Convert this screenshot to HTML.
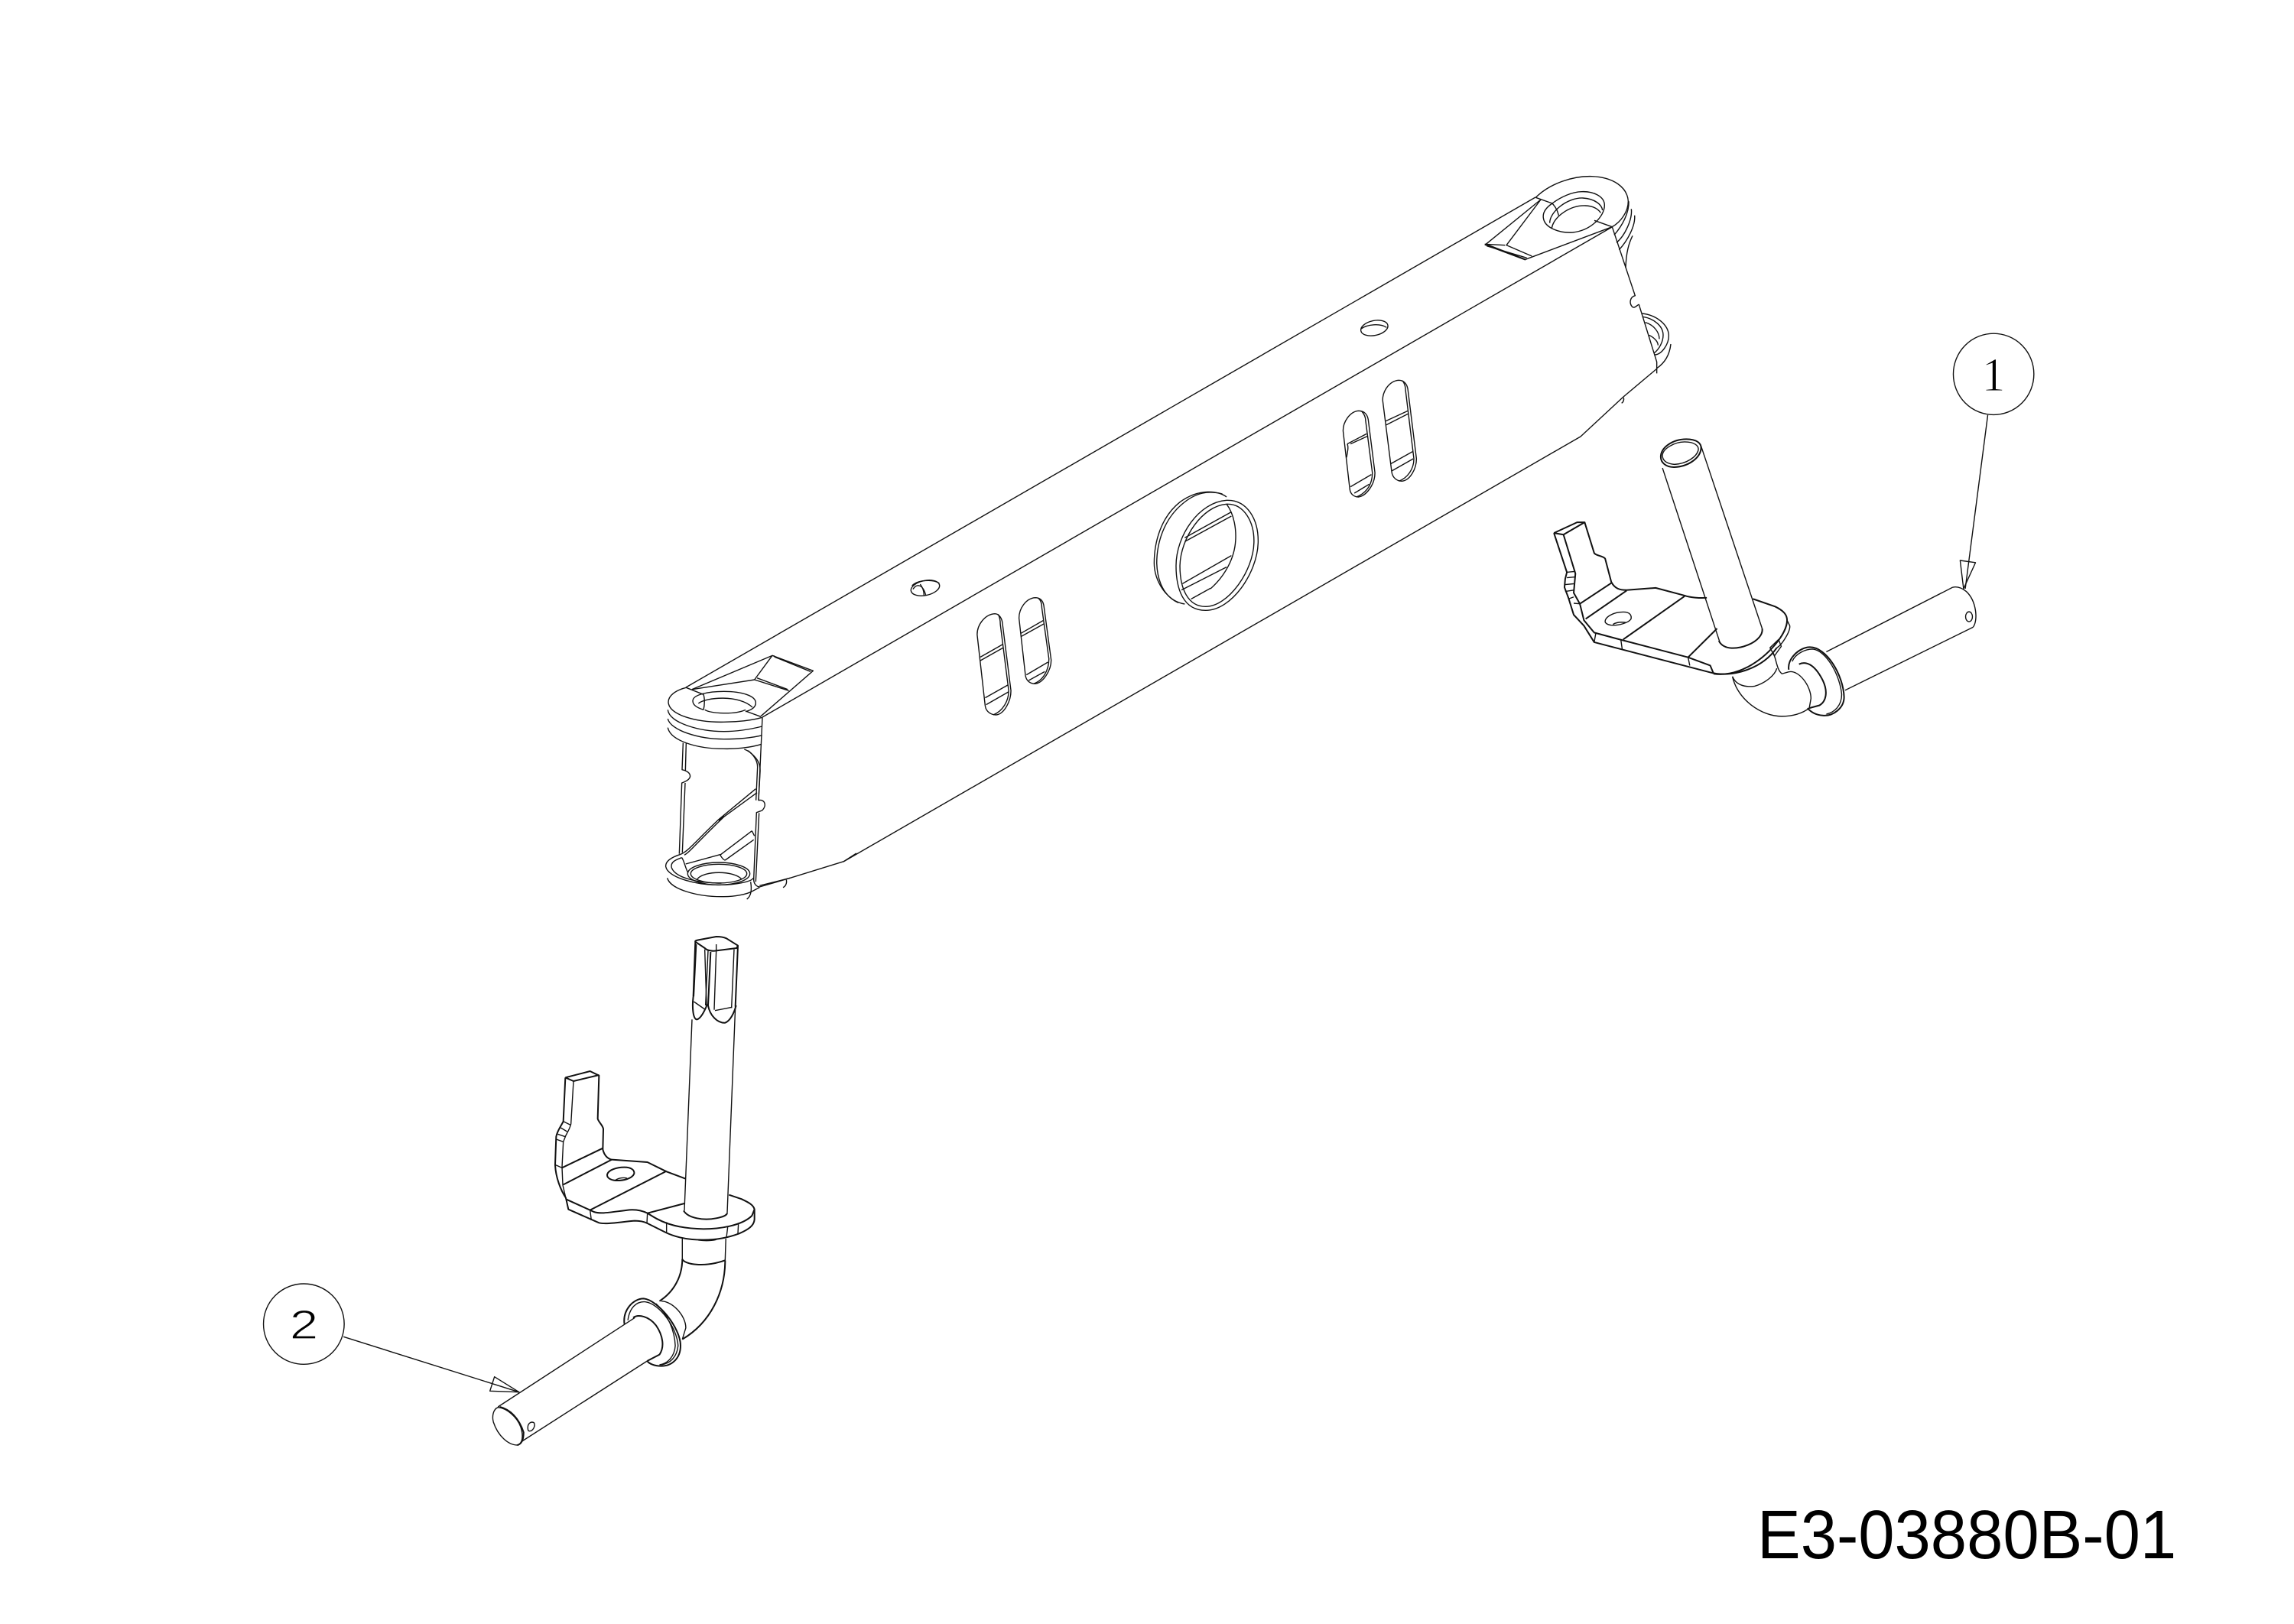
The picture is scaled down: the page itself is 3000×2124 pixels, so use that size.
<!DOCTYPE html>
<html><head><meta charset="utf-8"><style>
html,body{margin:0;padding:0;background:#fff;width:3000px;height:2124px;overflow:hidden}
svg{display:block}
path,ellipse{fill:none;stroke:#111;stroke-width:1.4;vector-effect:non-scaling-stroke;stroke-linejoin:round}
.t path,.t ellipse{stroke-width:2}
</style></head><body>
<svg width="3000" height="2124" viewBox="0 0 3000 2124" xmlns="http://www.w3.org/2000/svg">
<rect width="3000" height="2124" fill="#fff"/>
<!-- long beam lines -->
<path d="M897,899 L2008,258"/>
<path d="M997,938 L2108,297"/>
<path d="M1103,1127 L2067,571 L2123,519 L2167,482"/>
<!-- small holes -->
<g transform="translate(1190,750) scale(.33333)">
<ellipse cx="60" cy="57" rx="57" ry="29" transform="rotate(-12 60 57)"/>
<path d="M8,48 C30,25 90,22 115,38"/>
<path d="M12,62 C25,40 50,40 62,85"/><path d="M40,42 C50,55 55,70 55,85"/>
</g>
<g transform="translate(1780,410) scale(.33333)">
<ellipse cx="52" cy="57" rx="54" ry="29" transform="rotate(-12 52 57)"/>
<path d="M0,60 C25,42 75,38 100,55"/>
</g>
<!-- lower-left end -->
<g transform="translate(820,820) scale(.33333)">
<path d="M232,238 C190,248 162,270 162,295 C165,345 270,375 380,373 C430,373 490,367 530,355"/>
<path d="M160,325 C165,375 280,410 380,410 C440,410 490,400 530,390"/>
<path d="M160,360 C170,405 280,440 380,440 C440,440 490,435 530,425"/>
<path d="M160,395 C170,445 270,478 380,478 C420,479 480,475 528,460"/>
<path d="M531,355 L516,680 C540,675 550,700 530,720 L508,728 L497,990 C497,1005 505,1018 520,1020 L640,985 L850,920 L900,888"/>
<path d="M460,480 C490,490 512,520 512,550 L506,680"/>
<path d="M475,485 C505,510 525,530 522,570 L516,680"/>
<path d="M518,730 L505,1000"/>
<path d="M220,455 L216,560 C245,565 265,590 225,608 L215,612 L205,890"/>
<path d="M232,455 L229,565"/><path d="M228,612 L217,885"/>
<path d="M210,892 C240,880 260,850 360,755 L505,635"/>
<path d="M225,895 C250,880 270,850 380,745 L510,650"/>
<path d="M360,760 L380,740"/>
<path d="M365,895 L490,800"/><path d="M385,915 L497,835"/><path d="M490,800 L500,820"/>
<path d="M230,930 L365,893 C370,905 380,915 385,915"/>
<path d="M210,892 C170,905 150,920 152,940 C160,985 280,1015 370,1012 C420,1012 490,1000 495,985"/>
<path d="M215,905 C185,915 170,925 175,945 C190,985 280,1005 370,1005"/>
<path d="M158,985 C170,1030 280,1060 380,1058 C420,1058 470,1050 495,1035 L520,1022"/>
<path d="M485,1000 C490,1030 488,1055 470,1068"/><path d="M625,992 C628,1005 622,1018 612,1022"/><path d="M520,1015 L640,985"/>
<ellipse cx="360" cy="968" rx="122" ry="44"/><ellipse cx="360" cy="968" rx="110" ry="37"/>
<path d="M275,990 C300,955 420,955 450,990"/>
<path d="M215,905 C225,920 230,950 240,965"/>
<path d="M300,325 C270,315 258,305 258,290 C258,265 320,253 380,253 C450,253 505,270 505,298 C505,315 490,325 465,332"/>
<path d="M305,325 C330,340 420,345 465,325"/>
<path d="M280,300 C310,275 440,265 492,315"/>
<path d="M232,238 L300,265 C305,280 305,305 300,325"/>
<path d="M255,245 L570,112 L730,172 L525,350"/>
<path d="M255,245 L500,207 L635,250"/><path d="M500,207 L570,112"/>
<path d="M575,112 L580,118 L720,175"/><path d="M510,200 L630,245"/><path d="M465,330 L525,352"/>
</g>
<!-- upper-right end -->
<g transform="translate(1900,180) scale(.33333)">
<path d="M325,235 C380,180 470,150 545,152 C630,155 685,195 688,250 C688,290 660,330 625,350"/>
<path d="M325,235 L390,258 C410,280 412,295 415,305"/>
<path d="M555,325 L625,350"/>
<path d="M390,258 C365,275 352,295 355,315 C360,355 420,375 470,372 C540,365 595,310 595,265 C595,230 550,210 505,212 C465,213 420,235 390,258"/>
<path d="M380,335 C380,290 450,235 510,237 C560,240 585,265 587,285"/>
<path d="M388,355 C395,310 460,265 520,267 C550,268 570,280 580,295"/>
<path d="M345,243 L130,418 L285,478 L625,350"/>
<path d="M345,243 L210,422 L310,465"/><path d="M125,418 L205,422"/><path d="M125,420 L285,480"/><path d="M133,425 L290,472"/>
<path d="M625,350 L715,620 C695,625 690,650 705,665 C715,670 725,655 730,655 L800,880 L800,925"/>
<path d="M740,690 C800,695 845,735 847,775 C848,810 820,850 793,852"/>
<path d="M745,703 C790,710 825,740 825,775 C825,800 810,830 790,845"/>
<path d="M855,810 C850,855 830,885 800,905"/>
<path d="M755,725 C790,735 810,765 810,790"/><path d="M770,775 C790,785 805,800 805,815"/>
</g>
<g transform="translate(2060,220) scale(.33333)">
<path d="M210,130 C212,175 185,225 153,262"/>
<path d="M220,160 C225,200 195,265 162,292"/>
<path d="M233,185 C237,225 205,285 172,320"/>
<path d="M225,265 C210,295 200,330 198,390"/>
</g>
<g transform="translate(2080,340) scale(.33333)">
<path d="M130,540 C132,550 128,558 122,562"/>
</g>
<!-- slots and ring -->
<g transform="translate(1240,460) scale(.42088,.33333)">
<path d="M865,570 C840,545 780,535 720,590 C660,650 640,750 640,830 C640,900 680,980 735,990"/>
<path d="M852,558 C810,545 770,550 725,600 C670,660 648,750 648,830 C650,900 670,960 715,985"/>
<path d="M865,583 C930,580 965,660 963,750 C960,870 880,1015 800,1015 C730,1015 708,930 708,840 C708,720 780,590 865,583Z"/>
<path d="M865,598 C920,595 952,670 950,750 C948,860 870,1000 800,1000 C745,1000 720,930 720,840 C722,730 790,605 865,598Z"/>
<path d="M865,598 C890,640 895,700 893,740 C890,810 860,880 815,930"/>
<path d="M735,730 L878,630"/><path d="M735,745 L880,645"/><path d="M728,910 L880,800"/><path d="M725,935 L865,845"/><path d="M755,970 L815,928"/>
<path d="M145,1028 C115,1030 90,1070 90,1110 L115,1390 C118,1415 135,1425 150,1425 C175,1420 195,1370 195,1330 L168,1060 C165,1040 155,1028 145,1028Z"/>
<path d="M155,1030 C160,1040 162,1055 162,1070 L188,1330 C188,1370 170,1410 140,1425"/>
<path d="M100,1198 L170,1148"/><path d="M100,1212 L170,1162"/><path d="M115,1358 L185,1308"/><path d="M118,1385 L187,1335"/>
<path d="M270,965 C240,968 220,1010 220,1045 L240,1270 C243,1295 258,1303 270,1303 C295,1300 320,1250 320,1210 L297,995 C294,975 285,965 270,965Z"/>
<path d="M280,967 C288,975 291,990 291,1005 L313,1205 C313,1250 295,1290 265,1303"/>
<path d="M226,1105 L295,1055"/><path d="M226,1118 L297,1068"/><path d="M243,1268 L310,1218"/><path d="M250,1290 L300,1255"/>
<path d="M1275,232 C1248,235 1227,275 1227,310 L1248,540 C1250,560 1262,570 1275,570 C1300,565 1326,520 1326,475 L1305,265 C1302,245 1292,232 1275,232Z"/>
<path d="M1285,234 C1293,245 1297,255 1297,270 L1318,475 C1318,520 1300,555 1268,570"/>
<path d="M1240,362 L1300,322"/><path d="M1250,362 L1302,332"/><path d="M1238,415 C1240,395 1245,375 1240,362"/>
<path d="M1250,530 L1315,482"/><path d="M1262,555 L1308,520"/>
<path d="M1400,112 C1370,115 1350,155 1350,190 L1378,470 C1380,495 1395,508 1410,508 C1435,505 1455,460 1455,420 L1428,145 C1425,125 1415,112 1400,112Z"/>
<path d="M1412,114 C1418,125 1421,135 1421,150 L1447,420 C1447,460 1428,495 1400,508"/>
<path d="M1360,272 L1428,232"/><path d="M1360,288 L1430,243"/><path d="M1375,440 L1443,392"/><path d="M1378,468 L1445,420"/>
</g>
<!-- right assembly -->
<g transform="translate(2000,420) scale(.44643,.35894)">
<g class="t">
<path d="M385,495 C385,460 420,430 460,430 C490,430 505,445 503,465 C500,500 465,530 425,532 C400,533 385,515 385,495Z"/>
<path d="M72,772 L140,733 L162,733 L100,778 L72,772"/>
<path d="M72,772 L110,915 L105,940 L103,970 L115,1010 L130,1070 L160,1110 L190,1170 L530,1280 C590,1300 680,1270 725,1190"/>
<path d="M162,733 L190,845 C195,855 215,855 222,865 L240,950 C250,975 265,980 285,980 L370,972 L455,1000 C470,1007 500,1010 520,1008"/>
<path d="M100,778 L135,920 L130,990 L148,1030 L160,1090 L190,1135 L265,1160 L465,1225 L530,1255 L540,1285"/>
<path d="M148,1030 L243,952"/><path d="M165,1085 L285,982"/><path d="M275,1160 L455,1002"/><path d="M465,1225 L550,1120"/>
<path d="M655,1012 L720,1040 C745,1055 755,1070 755,1090 C755,1140 700,1220 640,1260 C600,1285 570,1290 540,1285"/>
<path d="M555,1165 C570,1200 610,1195 640,1180 C670,1165 685,1140 682,1120"/>
<path d="M760,1270 C755,1230 790,1190 820,1188 C870,1185 920,1290 922,1370 C922,1410 890,1440 860,1437 C840,1435 825,1425 815,1410"/>
<path d="M790,1250 C815,1235 840,1260 860,1310 C875,1350 870,1385 850,1400 L820,1410"/>
</g>
<path d="M390,490 C390,465 425,440 455,440 C485,440 497,455 495,470 C490,495 460,520 425,522 C405,520 390,510 390,490Z"/>
<path d="M390,535 L558,1170"/><path d="M503,455 L682,1120"/>
<path d="M222,1095 C222,1075 250,1060 275,1060 C295,1060 300,1072 298,1085 C290,1100 260,1110 240,1108 C228,1106 222,1100 222,1095Z"/>
<path d="M245,1105 C255,1097 270,1096 282,1098"/>
<path d="M110,915 L135,912"/><path d="M110,935 L135,932"/><path d="M105,960 L130,957"/><path d="M105,985 L130,980"/><path d="M115,1012 L130,1005"/><path d="M130,1028 L148,1030"/>
<path d="M195,1135 L190,1170"/><path d="M268,1160 L272,1195"/><path d="M465,1225 L470,1255"/>
<path d="M755,1090 L763,1110 C765,1130 740,1180 725,1190"/>
<path d="M705,1190 L730,1160 L738,1185 L718,1220 Z"/>
<path d="M595,1295 C605,1325 630,1335 660,1330 C690,1320 720,1290 725,1265"/>
<path d="M595,1295 C610,1380 680,1440 740,1440 C770,1440 800,1430 820,1410"/>
<path d="M715,1210 C725,1240 725,1270 740,1285 L760,1278"/>
<path d="M760,1278 C790,1270 825,1330 825,1375 L820,1410"/>
<path d="M770,1240 C780,1210 810,1195 830,1195 C870,1200 910,1290 915,1360 C915,1400 895,1425 870,1432"/>
<path d="M870,1205 L1240,970"/><path d="M925,1345 L1300,1115"/>
<path d="M1240,970 C1255,965 1270,975 1280,985 C1310,1020 1315,1090 1300,1115"/>
<ellipse cx="1288" cy="1077" rx="10" ry="18"/>
<path d="M1343,342 L1277,975"/>
<path d="M1262,872 L1307,880 L1272,975 Z"/>
<ellipse cx="1360" cy="193" rx="118" ry="148"/>
</g>
<text x="2607" y="511" font-family="Liberation Serif, serif" font-size="62" text-anchor="middle" fill="#000" stroke="#fff" stroke-width="1" paint-order="fill">1</text>
<!-- left assembly bracket -->
<g transform="translate(620,1200) scale(.33333)">
<g class="t">
<path d="M868,95 L905,120 C915,130 935,133 950,130 L1030,120 L1035,110 L990,82 C975,75 960,75 950,75 L880,88 C870,90 866,92 868,95Z"/>
<path d="M868,95 L860,310 C855,350 858,400 875,400 C890,395 905,365 915,340"/>
<path d="M928,135 L918,345 C925,385 955,415 985,413 C1005,405 1020,375 1028,345"/>
<path d="M1035,110 L1025,350"/>
<path d="M358,628 L455,603 L490,620 L485,790 C490,805 505,815 507,830 L505,910 C510,930 520,945 540,950 L680,960 L755,997 L830,1025"/>
<path d="M358,628 L390,642 L490,618"/>
<path d="M358,628 L350,800 C340,820 325,840 322,860 L318,970 C320,1020 340,1070 360,1100 L370,1145 L490,1198 C520,1205 570,1195 630,1190 C655,1190 670,1195 680,1200 L750,1235 C790,1255 840,1265 900,1265 C950,1265 1000,1255 1040,1240 C1075,1225 1098,1210 1100,1185 L1100,1145 C1095,1125 1070,1115 1050,1105 L1000,1088"/>
<path d="M345,982 L505,905"/><path d="M350,1048 L540,950"/><path d="M455,1148 L755,995"/>
<path d="M360,1105 L455,1148 L470,1155 C500,1165 540,1155 610,1147 C640,1145 660,1150 680,1160 C720,1185 770,1220 900,1222 C960,1222 1050,1210 1090,1170 L1100,1145"/>
<path d="M680,1160 L825,1122"/>
<path d="M522,1010 C525,990 560,980 590,980 C615,980 630,990 628,1005 C620,1025 585,1033 555,1032 C535,1030 522,1022 522,1010Z"/>
<path d="M822,1150 C840,1180 900,1190 950,1180 C975,1175 990,1170 993,1160"/>
<path d="M880,1265 Q920,1270 950,1263"/>
</g>
<path d="M855,400 L825,1150"/><path d="M1025,350 L993,1160"/>
<path d="M918,130 L908,345"/><path d="M950,130 L942,362"/><path d="M1020,125 L1010,355"/><path d="M945,365 L1012,352"/><path d="M862,330 L905,360"/><path d="M950,105 L950,130"/><path d="M872,105 L862,310"/><path d="M905,125 L912,345"/>
<path d="M390,642 L380,810 C375,830 365,845 360,855 L350,880 L345,980 L348,1050 L370,1145"/>
<path d="M350,800 L380,815"/><path d="M340,825 L365,840"/><path d="M328,850 L358,860"/><path d="M322,870 L350,880"/><path d="M318,970 L345,982"/>
<path d="M455,1148 L460,1188"/><path d="M680,1160 L678,1200"/><path d="M755,1195 L755,1235"/><path d="M995,1215 L990,1255"/><path d="M1037,1200 L1035,1240"/>
<path d="M555,1030 C570,1020 590,1020 600,1023"/>
</g>
<!-- left pin -->
<g transform="translate(300,1580) scale(.45914,.33333)">
<g class="t">
<path d="M1290,200 C1295,220 1350,235 1412,205"/>
<path d="M1290,200 C1290,270 1265,330 1225,365"/>
<path d="M1412,205 C1412,330 1370,450 1290,515"/>
<path d="M1125,455 C1120,400 1150,355 1180,355 C1220,360 1285,470 1285,540 C1285,590 1260,620 1230,620 C1210,620 1195,610 1190,600"/>
<path d="M1150,430 C1165,415 1195,425 1215,460 C1235,500 1240,545 1225,575 L1190,600"/>
<path d="M770,780 C800,790 825,825 838,880 C838,900 835,925 820,930"/>
</g>
<path d="M1290,120 L1290,200"/><path d="M1414,120 L1412,205"/>
<path d="M1230,365 C1260,365 1300,420 1300,470 L1290,515"/>
<path d="M1135,440 C1140,390 1160,365 1185,368 C1225,375 1275,470 1278,540 C1275,585 1255,610 1230,615"/>
<path d="M1215,375 C1250,420 1268,480 1270,540 C1268,580 1250,610 1225,615"/>
<path d="M1155,430 L765,780"/><path d="M1190,600 L830,918"/>
<path d="M765,782 C750,790 748,820 752,840 C765,895 795,930 820,930 C835,925 838,895 830,860 C820,820 790,785 765,782Z"/>
<path d="M850,860 C850,845 860,835 868,843 C872,855 865,875 855,875 C850,875 850,868 850,860Z"/>
<path d="M325,505 L825,722"/>
<path d="M755,662 L742,718 L825,722 Z"/>
<ellipse cx="212" cy="455" rx="115" ry="158"/>
</g>
<text transform="translate(397.5,1751) scale(1.25,1)" font-family="Liberation Sans, sans-serif" font-size="54" text-anchor="middle" fill="#000" stroke="#fff" stroke-width="1.2">2</text>
<text transform="translate(2298,2038) scale(1,1.06)" font-family="Liberation Sans, sans-serif" font-size="85" fill="#000">E3-03880B-01</text>
</svg>
</body></html>
